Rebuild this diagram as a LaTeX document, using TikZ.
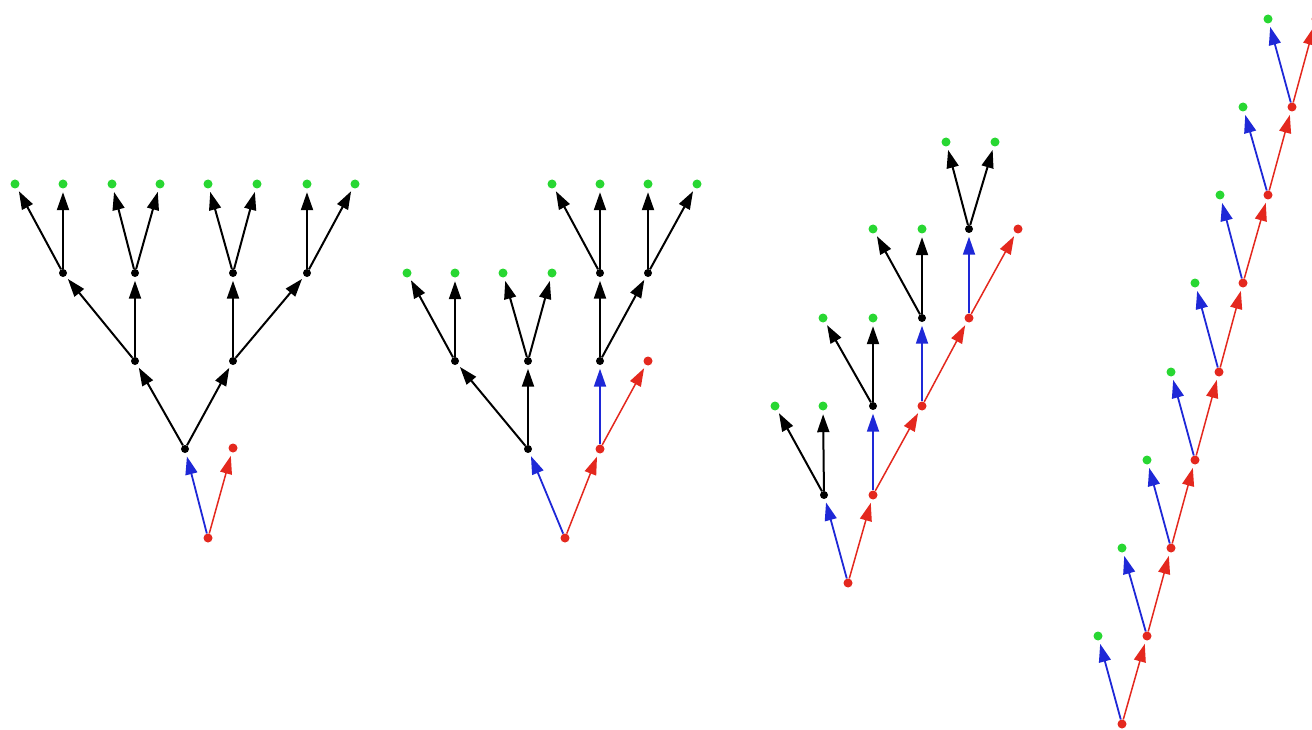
\documentclass[tikz,border=0pt]{standalone}
\usetikzlibrary{arrows.meta}
\definecolor{dgreen}{RGB}{40,215,50}
\definecolor{dred}{RGB}{228,40,30}
\definecolor{dblue}{RGB}{30,40,215}
\begin{document}
\begin{tikzpicture}[x=1pt,y=-1pt,
  dot/.style={circle,inner sep=0pt,minimum size=9pt},
  dk/.style={dot,fill=black,minimum size=8pt},
  dr/.style={dot,fill=dred},
  dg/.style={dot,fill=dgreen},
  edge/.style={-{Triangle[length=18pt,width=12pt]},shorten >=3.5pt},
  ek/.style={edge,draw=black,fill=black,line width=2pt},
  eb/.style={edge,draw=dblue,fill=dblue,line width=1.8pt},
  er/.style={edge,draw=dred,fill=dred,line width=1.5pt}]
\clip (0,0) rectangle (1312,730);
\fill[white] (0,0) rectangle (1312,730);
% ---- tree 1
\node[dr] (a0) at (208,538) {};
\node[dk] (a1) at (185,449) {};
\node[dr] (a2) at (233,448) {};
\node[dk] (a3) at (135,361) {};
\node[dk] (a4) at (233,361) {};
\node[dk] (a5) at (63,273) {};
\node[dk] (a6) at (135,273) {};
\node[dk] (a7) at (233,273) {};
\node[dk] (a8) at (307,273) {};
\node[dg] (a9) at (15,184) {};
\node[dg] (a10) at (63,184) {};
\node[dg] (a11) at (112,184) {};
\node[dg] (a12) at (160,184) {};
\node[dg] (a13) at (208,184) {};
\node[dg] (a14) at (257,184) {};
\node[dg] (a15) at (307,184) {};
\node[dg] (a16) at (355,184) {};
\draw[eb] (a0) -- (a1);
\draw[er] (a0) -- (a2);
\draw[ek] (a1) -- (a3);
\draw[ek] (a1) -- (a4);
\draw[ek] (a3) -- (a5);
\draw[ek] (a3) -- (a6);
\draw[ek] (a4) -- (a7);
\draw[ek] (a4) -- (a8);
\draw[ek] (a5) -- (a9);
\draw[ek] (a5) -- (a10);
\draw[ek] (a6) -- (a11);
\draw[ek] (a6) -- (a12);
\draw[ek] (a7) -- (a13);
\draw[ek] (a7) -- (a14);
\draw[ek] (a8) -- (a15);
\draw[ek] (a8) -- (a16);
% ---- tree 2
\node[dr] (b0) at (565,538) {};
\node[dk] (b1) at (528,449) {};
\node[dr] (b2) at (600,449) {};
\node[dk] (b3) at (455,361) {};
\node[dk] (b4) at (528,361) {};
\node[dk] (b5) at (600,361) {};
\node[dr] (b6) at (648,361) {};
\node[dg] (b7) at (407,273) {};
\node[dg] (b8) at (455,273) {};
\node[dg] (b9) at (503,273) {};
\node[dg] (b10) at (552,273) {};
\node[dk] (b11) at (600,273) {};
\node[dk] (b12) at (648,273) {};
\node[dg] (b13) at (552,184) {};
\node[dg] (b14) at (600,184) {};
\node[dg] (b15) at (648,184) {};
\node[dg] (b16) at (697,184) {};
\draw[eb] (b0) -- (b1);
\draw[er] (b0) -- (b2);
\draw[ek] (b1) -- (b3);
\draw[ek] (b1) -- (b4);
\draw[ek] (b3) -- (b7);
\draw[ek] (b3) -- (b8);
\draw[ek] (b4) -- (b9);
\draw[ek] (b4) -- (b10);
\draw[eb] (b2) -- (b5);
\draw[er] (b2) -- (b6);
\draw[ek] (b5) -- (b11);
\draw[ek] (b5) -- (b12);
\draw[ek] (b11) -- (b13);
\draw[ek] (b11) -- (b14);
\draw[ek] (b12) -- (b15);
\draw[ek] (b12) -- (b16);
% ---- tree 3
\node[dr] (c0) at (848,583) {};
\node[dk] (c1) at (824,495) {};
\node[dr] (c2) at (873,495) {};
\node[dg] (c3) at (775,406) {};
\node[dg] (c4) at (823,406) {};
\node[dk] (c5) at (873,406) {};
\node[dr] (c6) at (922,406) {};
\node[dg] (c7) at (823,318) {};
\node[dg] (c8) at (873,318) {};
\node[dk] (c9) at (922,318) {};
\node[dr] (c10) at (969,318) {};
\node[dg] (c11) at (873,229) {};
\node[dg] (c12) at (922,229) {};
\node[dk] (c13) at (969,229) {};
\node[dr] (c14) at (1018,229) {};
\node[dg] (c15) at (946,142) {};
\node[dg] (c16) at (995,142) {};
\draw[eb] (c0) -- (c1);
\draw[er] (c0) -- (c2);
\draw[ek] (c1) -- (c3);
\draw[ek] (c1) -- (c4);
\draw[eb] (c2) -- (c5);
\draw[er] (c2) -- (c6);
\draw[ek] (c5) -- (c7);
\draw[ek] (c5) -- (c8);
\draw[eb] (c6) -- (c9);
\draw[er] (c6) -- (c10);
\draw[ek] (c9) -- (c11);
\draw[ek] (c9) -- (c12);
\draw[eb] (c10) -- (c13);
\draw[er] (c10) -- (c14);
\draw[ek] (c13) -- (c15);
\draw[ek] (c13) -- (c16);
% ---- tree 4
\node[dr] (d0) at (1122,724) {};
\node[dr] (d1) at (1147,636) {};
\node[dr] (d2) at (1171,548) {};
\node[dr] (d3) at (1195,460) {};
\node[dr] (d4) at (1219,372) {};
\node[dr] (d5) at (1243,283) {};
\node[dr] (d6) at (1268,195) {};
\node[dr] (d7) at (1292,107) {};
\node[dr] (d8) at (1316,19) {};
\node[dg] (e1) at (1098,636) {};
\node[dg] (e2) at (1122,548) {};
\node[dg] (e3) at (1147,460) {};
\node[dg] (e4) at (1171,372) {};
\node[dg] (e5) at (1195,283) {};
\node[dg] (e6) at (1220,195) {};
\node[dg] (e7) at (1243,107) {};
\node[dg] (e8) at (1268,19) {};
\foreach \i/\j in {0/1,1/2,2/3,3/4,4/5,5/6,6/7,7/8}{
  \draw[er] (d\i) -- (d\j);
  \draw[eb] (d\i) -- (e\j);
}
\end{tikzpicture}
\end{document}
